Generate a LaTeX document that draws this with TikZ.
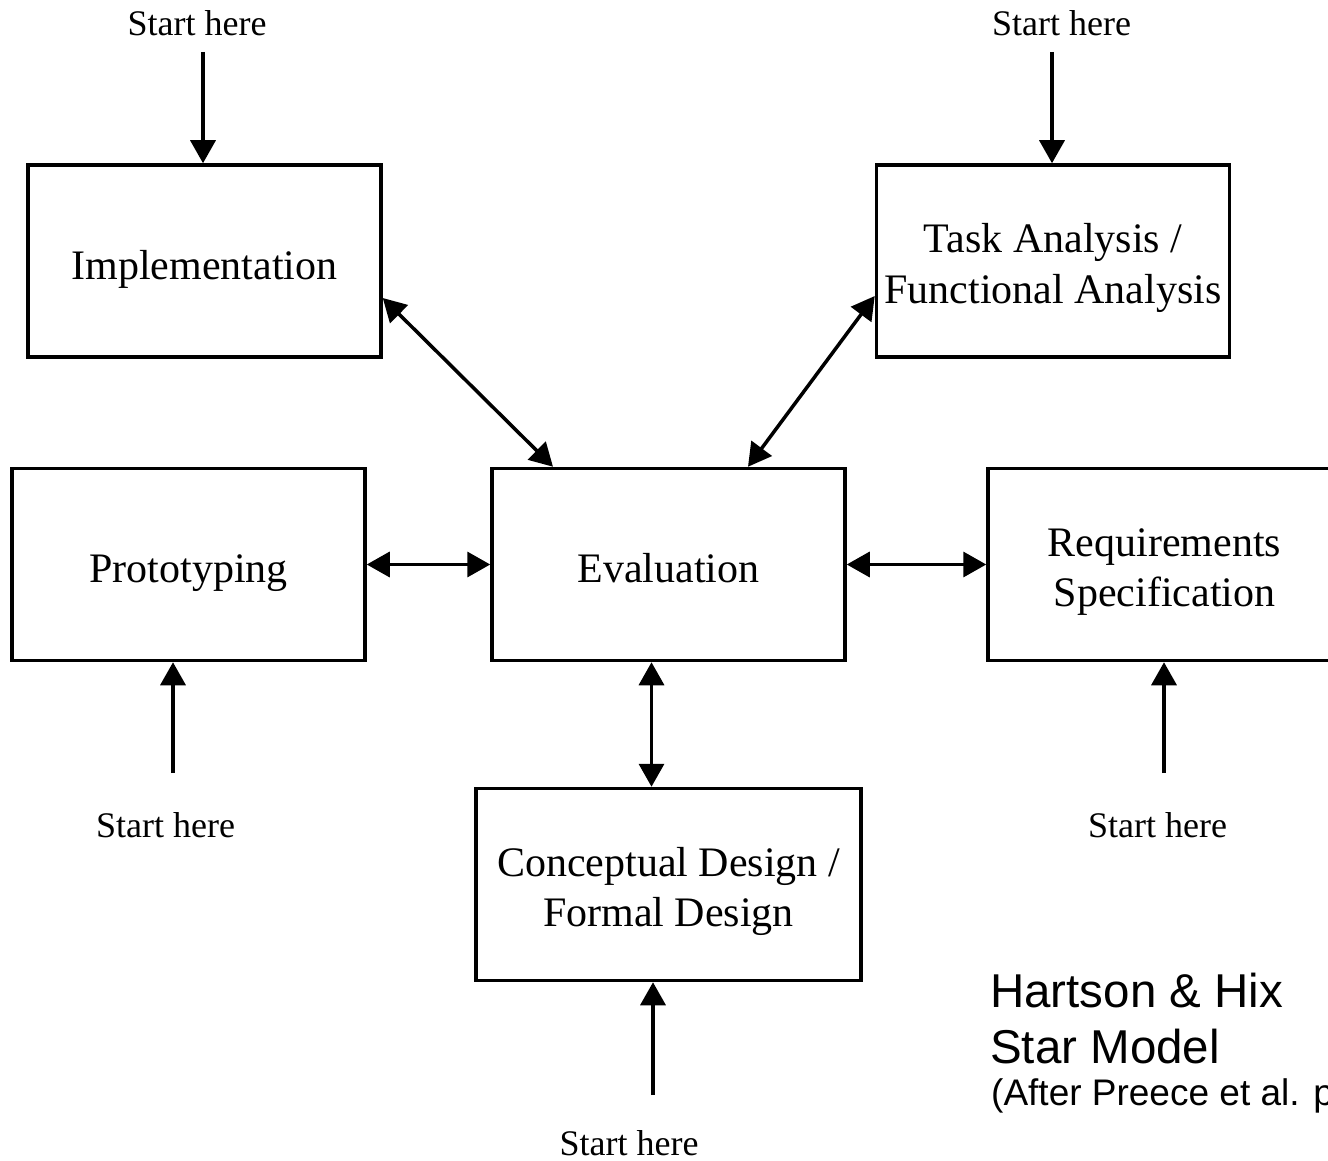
\documentclass[tikz,border=0pt]{standalone}
\usepackage{fontspec}
\setmainfont{Liberation Serif}
\newfontfamily\labelsans{Liberation Sans}
\usetikzlibrary{arrows.meta,calc}

\tikzset{
  stage/.style={draw, line width=3.5pt, minimum width=353pt, minimum height=192pt, inner sep=0pt},
  stagetxt/.style={inner sep=0pt, align=center, font=\fontsize{42}{50.5}\selectfont},
  starttxt/.style={inner sep=0pt, anchor=base, font=\fontsize{36}{42}\selectfont},
  link/.style={line width=3.5pt, {Triangle[length=23pt,width=25pt]}-{Triangle[length=23pt,width=25pt]}},
  entry/.style={line width=3.5pt, -{Triangle[length=23pt,width=25pt]}},
  titletxt/.style={inner sep=0pt, anchor=base west, font=\labelsans\fontsize{47.5}{56}\selectfont},
  notetxt/.style={inner sep=0pt, anchor=base west, font=\labelsans\fontsize{37}{44}\selectfont}
}

\begin{document}
\begin{tikzpicture}[x=1pt, y=-1pt]
  \useasboundingbox (0,0) rectangle (1328,1161);
  \clip (0,0) rectangle (1328,1161);

  % stages of the star model
  \node[stage] (impl) at (204.5,261) {};
  \node[stage] (task) at (1053,261) {};
  \node[stage] (prot) at (188.5,564.5) {};
  \node[stage] (eval) at (668.5,564.5) {};
  \node[stage] (req)  at (1164.5,564.5) {};
  \node[stage, minimum width=385pt] (conc) at (668.5,884.5) {};

  % stage names
  \node[stagetxt, anchor=base] (impl-t) at ($(impl.center)+(0,18.5)$) {Implementation};
  \node[stagetxt, anchor=base] (prot-t) at ($(prot.center)+(0,17.5)$) {Prototyping};
  \node[stagetxt, anchor=base] (eval-t) at ($(eval.center)+(0,17.5)$) {Evaluation};
  \node[stagetxt] (task-t) at ($(task.center)+(0,7)$) {Task Analysis /\\Functional Analysis};
  \node[stagetxt] (req-t)  at ($(req.center)+(0,7.5)$) {Requirements\\Specification};
  \node[stagetxt] (conc-t) at ($(conc.center)+(0,7)$) {Conceptual Design /\\Formal Design};

  % two-way links to the evaluation stage
  \draw[link] ($(impl.east)+(0,37)$) -- ($(eval.north)+(-115.5,0)$);
  \draw[link] ($(task.west)+(0,35)$) -- ($(eval.north)+(79.5,0)$);
  \draw[link] (prot.east) -- (eval.west);
  \draw[link] (eval.east) -- (req.west);
  \draw[link] ($(eval.south)+(-17,0)$) -- ($(conc.north)+(-17,0)$);

  % entry points
  \node[starttxt] (s1) at (197,36) {Start here};
  \node[starttxt] (s2) at (1061.5,36) {Start here};
  \node[starttxt] (s3) at (165.5,837) {Start here};
  \node[starttxt] (s4) at (1157.5,837) {Start here};
  \node[starttxt] (s5) at (629,1155) {Start here};

  \coordinate (e1) at (203,52);
  \coordinate (e2) at (1052,52);
  \coordinate (e3) at (173,773);
  \coordinate (e4) at (1164,773);
  \coordinate (e5) at (653,1095);

  \draw[entry] (e1) -- (e1 |- impl.north);
  \draw[entry] (e2) -- (e2 |- task.north);
  \draw[entry] (e3) -- (e3 |- prot.south);
  \draw[entry] (e4) -- (e4 |- req.south);
  \draw[entry] (e5) -- (e5 |- conc.south);

  % title
  \node[titletxt] (t1) at (990,1007) {Hartson \& Hix};
  \node[titletxt] (t2) at (990,1063) {Star Model};
  \node[notetxt] (t3) at (991,1105) {(After Preece et al. p};
\end{tikzpicture}
\end{document}
